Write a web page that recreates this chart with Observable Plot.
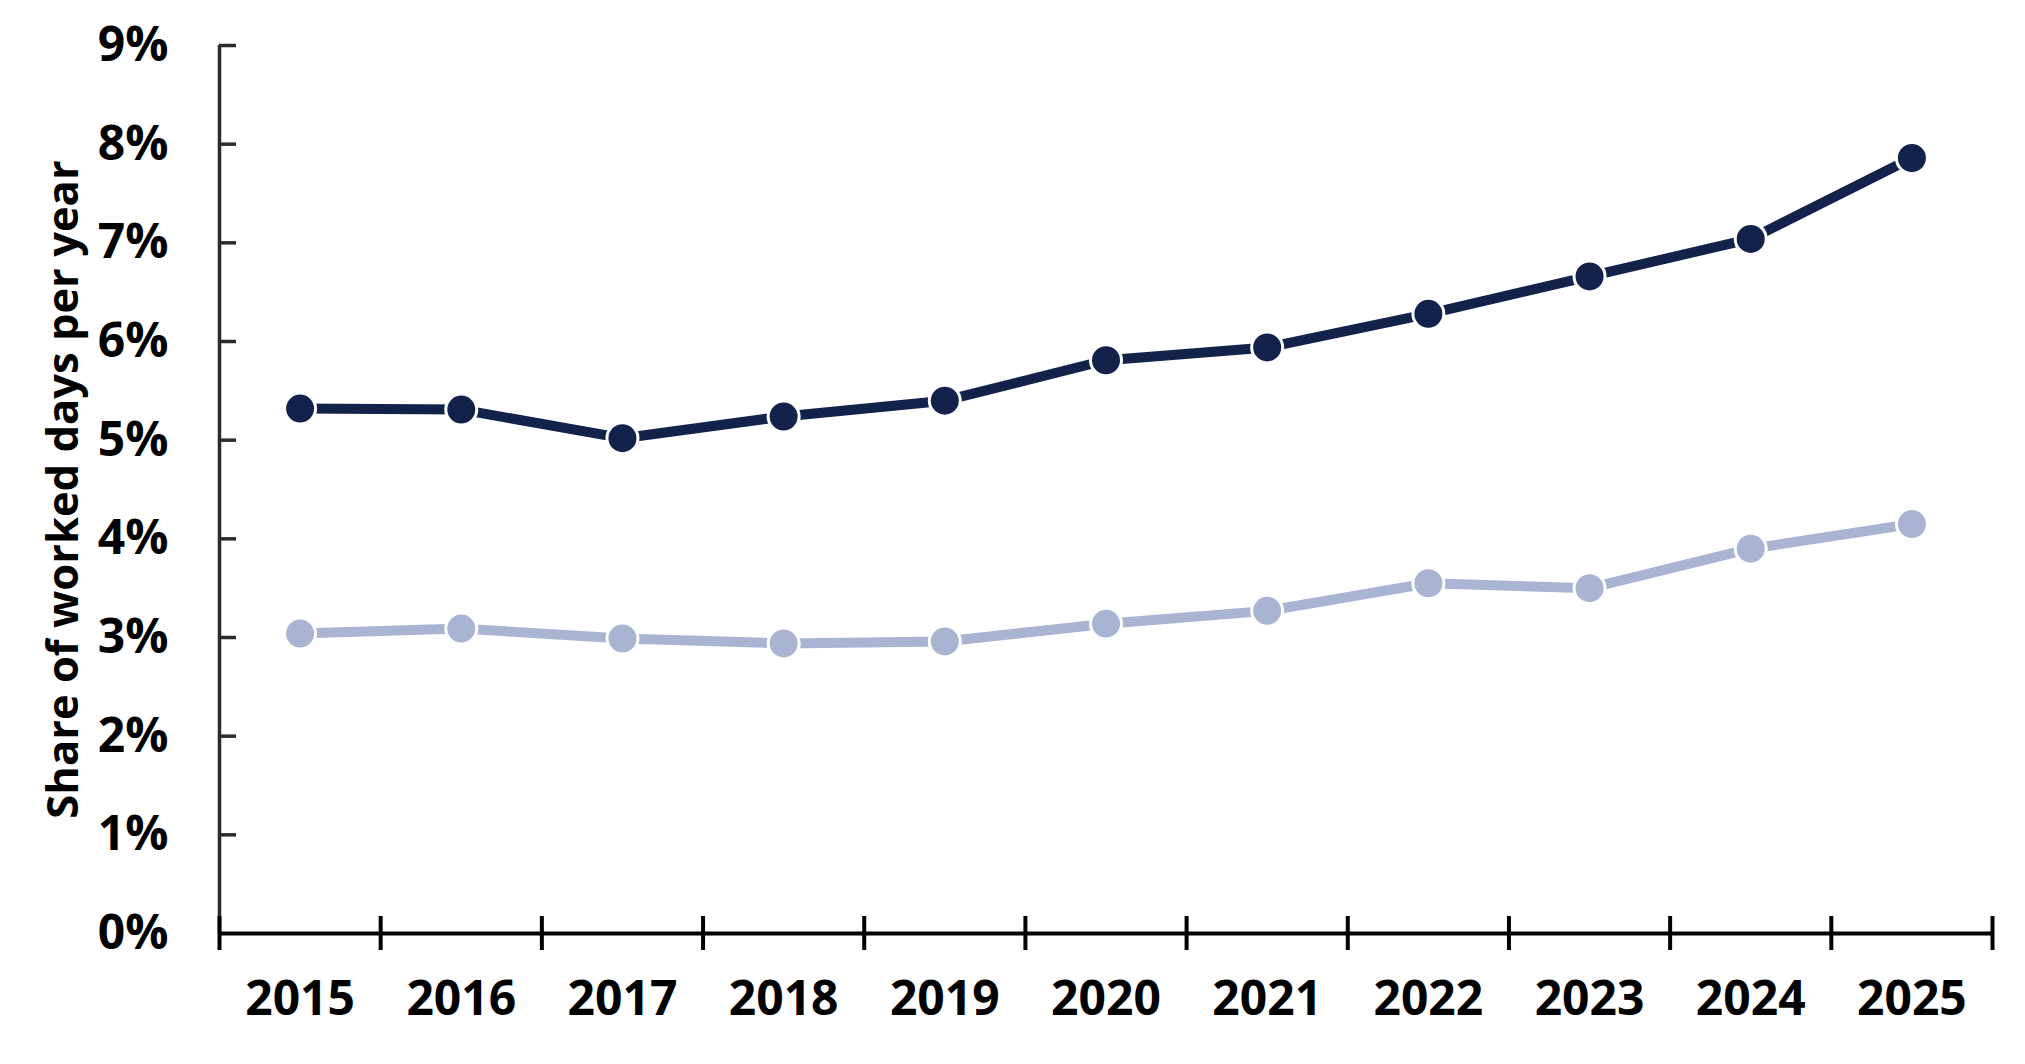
<!DOCTYPE html>
<html>
<head>
<meta charset="utf-8">
<script src="https://cdn.jsdelivr.net/npm/d3@7"></script>
<script src="https://cdn.jsdelivr.net/npm/@observablehq/plot@0.6"></script>
<style>
html, body { margin: 0; padding: 0; background: #ffffff; }
#chart svg { display: block; }
</style>
</head>
<body>
<div id="chart"></div>
<script>
// ---- data ----
const years = [2015, 2016, 2017, 2018, 2019, 2020, 2021, 2022, 2023, 2024, 2025];
const seriesDark = [5.32, 5.31, 5.02, 5.24, 5.40, 5.81, 5.94, 6.28, 6.66, 7.04, 7.86];
const seriesLight = [3.04, 3.09, 2.99, 2.94, 2.96, 3.14, 3.27, 3.55, 3.50, 3.90, 4.15];
const yTicks = [0, 1, 2, 3, 4, 5, 6, 7, 8, 9];
const yTitle = "Share of worked days per year";

// ---- styling ----
const darkColor = "#13224b";
const lightColor = "#a8b4d1";
const W = 2025, H = 1064;
const mL = 219, mR = 33, mT = 45, mB = 131;
const plotW = W - mL - mR;

const rowsDark = years.map((year, i) => ({year, value: seriesDark[i]}));
const rowsLight = years.map((year, i) => ({year, value: seriesLight[i]}));
const xDomain = [years[0] - 0.5, years[years.length - 1] + 0.5];
const xBounds = d3.range(years.length + 1).map(i => xDomain[0] + i);

const chart = Plot.plot({
  width: W,
  height: H,
  marginLeft: mL,
  marginRight: mR,
  marginTop: mT,
  marginBottom: mB,
  style: {fontFamily: "'Open Sans', 'Noto Sans', sans-serif", background: "#ffffff", color: "#000"},
  x: {domain: xDomain},
  y: {domain: [yTicks[0], yTicks[yTicks.length - 1]]},
  marks: [
    // axes labels
    Plot.axisX({ticks: years, tickFormat: d => String(d), tickSize: 0, tickPadding: 47,
      fontSize: 48, fontWeight: 700, fill: "#000", label: null}),
    Plot.axisY({ticks: yTicks, tickFormat: d => d + "%", tickSize: 0, tickPadding: 51,
      fontSize: 48, fontWeight: 700, fill: "#000", label: null}),
    // y axis line and inward ticks
    Plot.ruleX([xDomain[0]], {stroke: "#2b2b2b", strokeWidth: 3.5}),
    Plot.ruleY(yTicks.filter(d => d > 0), {stroke: "#2b2b2b", strokeWidth: 3.5, insetRight: plotW - 17}),
    // x axis line and boundary ticks
    Plot.ruleY([0], {stroke: "#000", strokeWidth: 4}),
    Plot.ruleX(xBounds, {y1: 0, y2: 0, insetTop: -17, insetBottom: -17, stroke: "#000", strokeWidth: 4}),
    // series
    Plot.line(rowsLight, {x: "year", y: "value", stroke: lightColor, strokeWidth: 10}),
    Plot.dot(rowsLight, {x: "year", y: "value", r: 15.5, fill: lightColor, stroke: "#ffffff", strokeWidth: 3}),
    Plot.line(rowsDark, {x: "year", y: "value", stroke: darkColor, strokeWidth: 10}),
    Plot.dot(rowsDark, {x: "year", y: "value", r: 15.5, fill: darkColor, stroke: "#ffffff", strokeWidth: 3}),
    // y title
    Plot.text([yTitle], {text: d => d, frameAnchor: "left", textAnchor: "middle", lineAnchor: "middle",
      rotate: -90, dx: -155, fontSize: 43.5, fontWeight: 700, fill: "#000"})
  ]
});
document.getElementById("chart").appendChild(chart);
</script>
</body>
</html>
